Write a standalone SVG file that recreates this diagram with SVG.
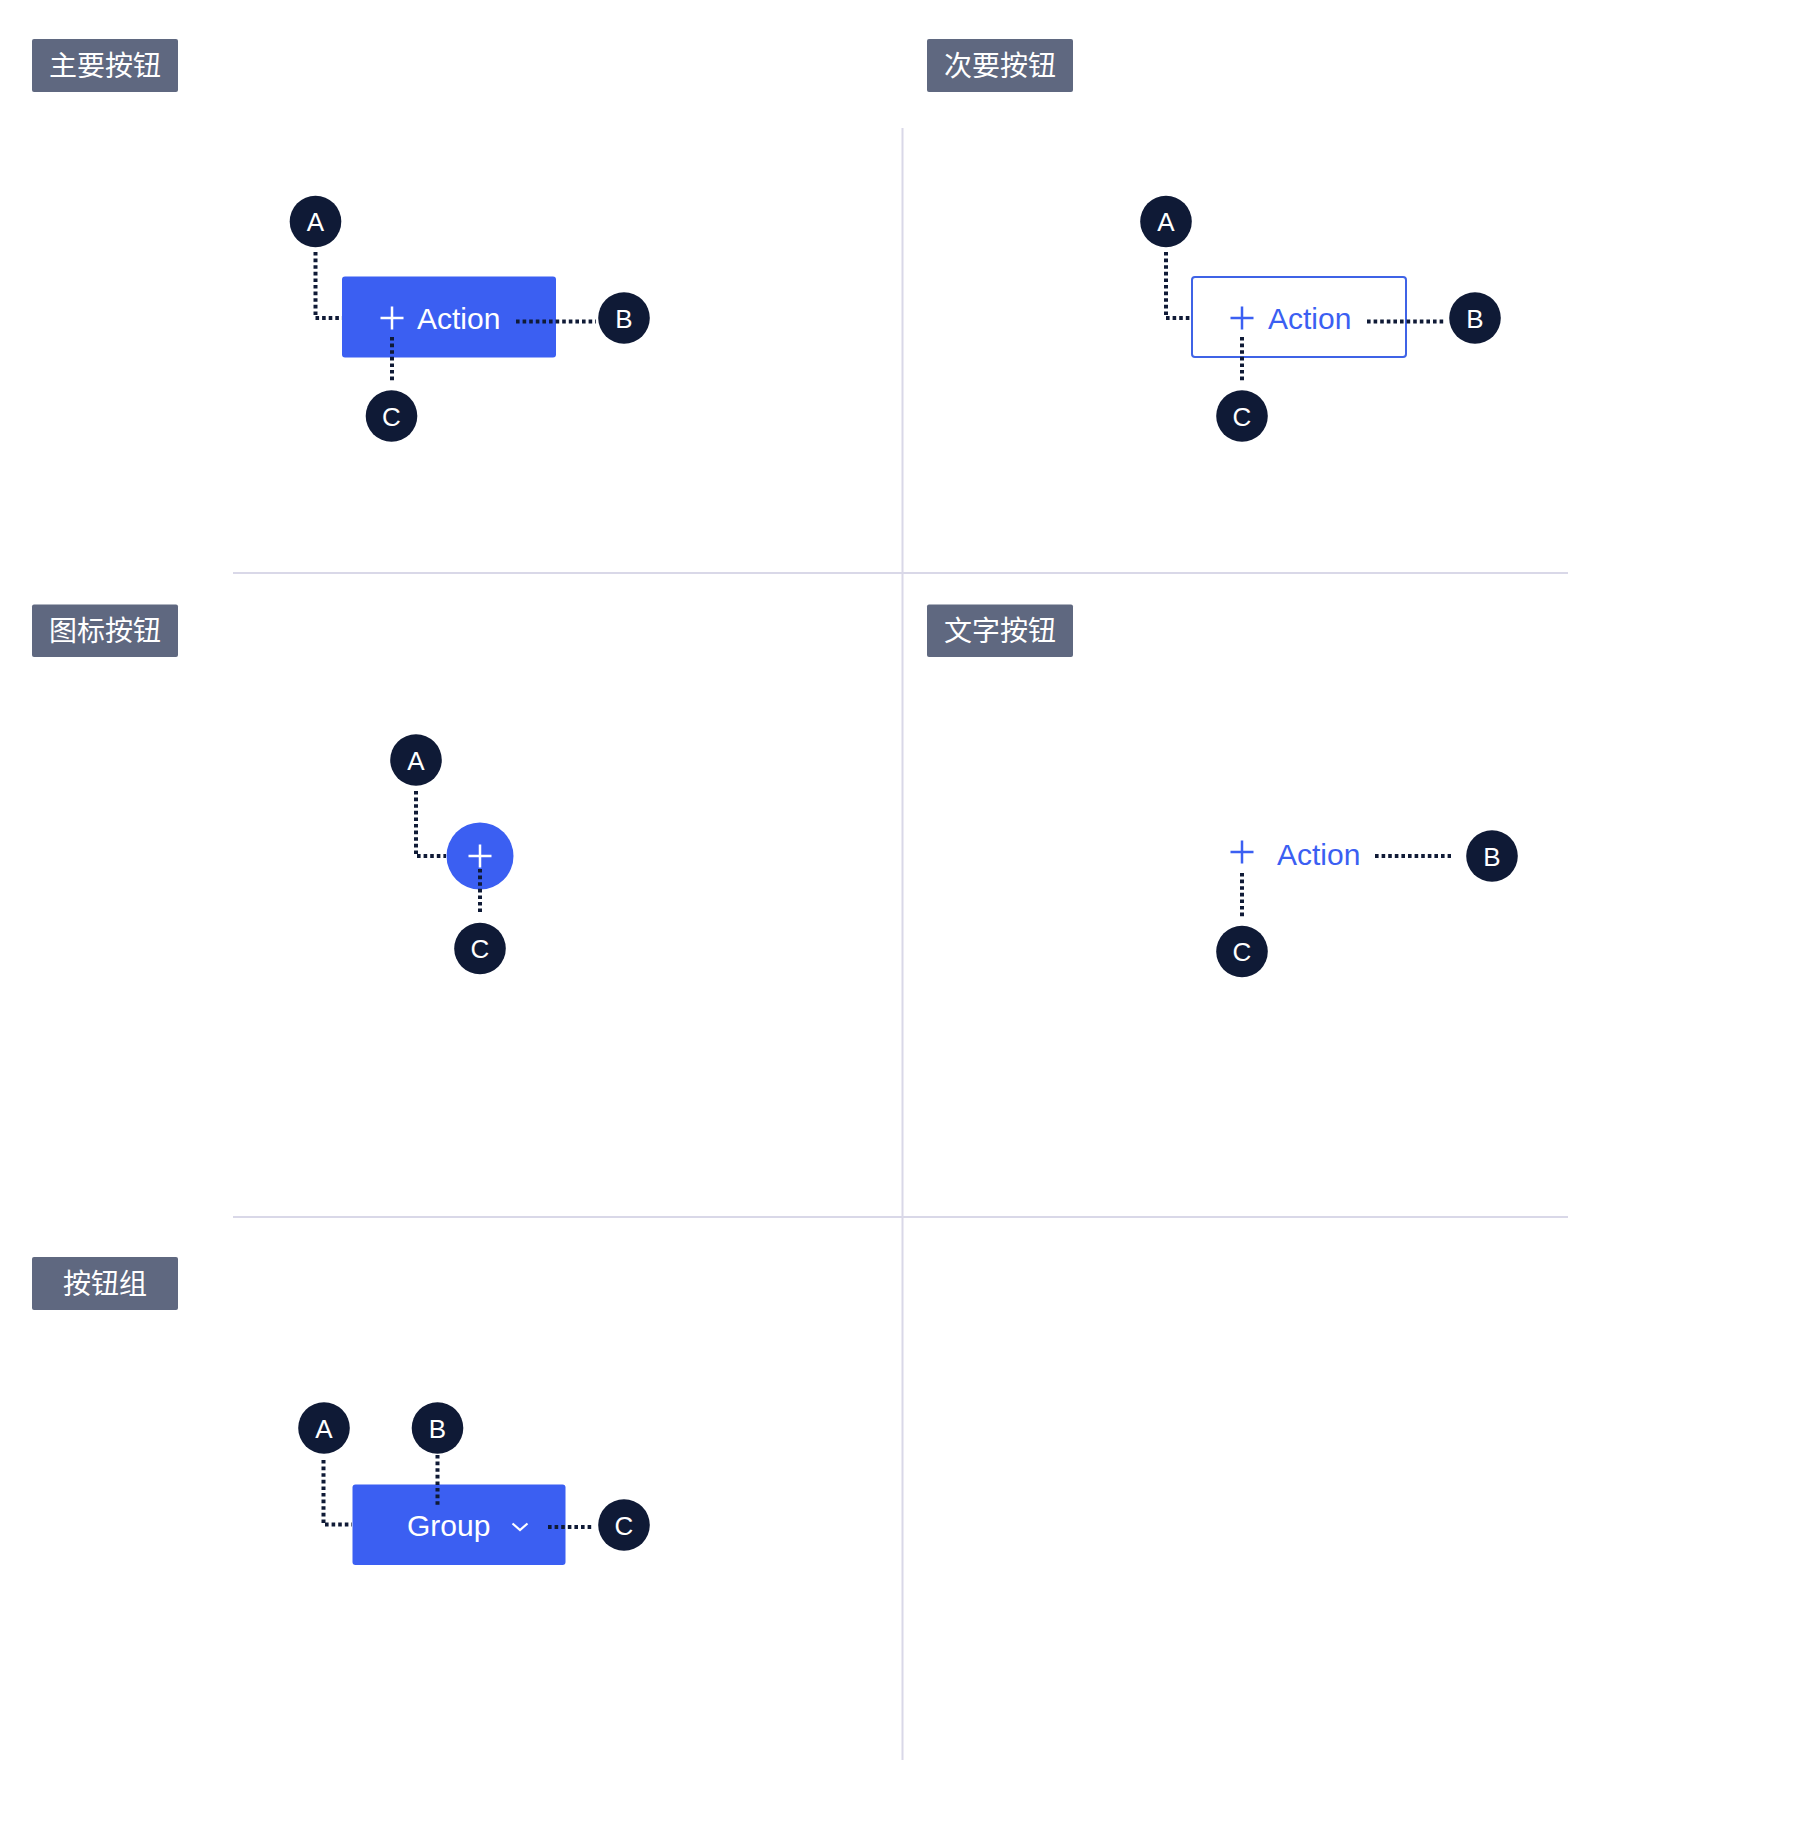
<svg xmlns="http://www.w3.org/2000/svg" width="1800" height="1836" viewBox="0 0 1800 1836">
<style>
.lbl rect{fill:#5f6880}
.lbl text{fill:#ffffff;font-family:"Noto Sans CJK SC","Noto Sans",sans-serif;font-size:28px;text-anchor:middle}
.div{stroke:#d9d8e8;stroke-width:2;fill:none}
.mark circle{fill:#0f1a36}
.mark text{fill:#ffffff;font-family:"Liberation Sans",Arial,sans-serif;font-size:26px;text-anchor:middle}
.conn{stroke:#0f1a36;stroke-width:4;fill:none;stroke-dasharray:3.6 3}
.btxt{font-family:"Liberation Sans",Arial,sans-serif;font-size:30px}
.plusw{stroke:#ffffff;stroke-width:2.5;fill:none}
.plusb{stroke:#3b5ff2;stroke-width:2.5;fill:none}
</style>
<rect width="1800" height="1836" fill="#ffffff"/>
<g id="dividers">
<line class="div" x1="902.5" y1="128" x2="902.5" y2="1760"/>
<line class="div" x1="233" y1="573" x2="1568" y2="573"/>
<line class="div" x1="233" y1="1217" x2="1568" y2="1217"/>
</g>
<g id="label-primary" class="lbl"><rect x="32" y="39" width="146" height="53" rx="2"/><text x="105" y="75.5">主要按钮</text></g>
<g id="label-secondary" class="lbl"><rect x="927" y="39" width="146" height="53" rx="2"/><text x="1000" y="75.5">次要按钮</text></g>
<g id="label-icon" class="lbl"><rect x="32" y="604.5" width="146" height="52.5" rx="2"/><text x="105" y="640.5">图标按钮</text></g>
<g id="label-text" class="lbl"><rect x="927" y="604.5" width="146" height="52.5" rx="2"/><text x="1000" y="640.5">文字按钮</text></g>
<g id="label-group" class="lbl"><rect x="32" y="1257" width="146" height="53" rx="2"/><text x="105" y="1293.5">按钮组</text></g>

<g id="btn-primary">
<rect x="342" y="276.5" width="214" height="81" rx="3" fill="#3b5ff2"/>
<path class="plusw" d="M380.5 318H403.5M392 306.5V329.5"/>
<text class="btxt" x="417" y="329" fill="#ffffff">Action</text>
</g>
<g id="btn-secondary">
<rect x="1192" y="277" width="214" height="80" rx="3" fill="#ffffff" stroke="#3f63e6" stroke-width="2"/>
<path class="plusb" d="M1230.5 318H1253.5M1242 306.5V329.5"/>
<text class="btxt" x="1268" y="329" fill="#3b5ff2">Action</text>
</g>
<g id="btn-icon">
<circle cx="480" cy="856" r="33.5" fill="#3b5ff2"/>
<path class="plusw" d="M468.5 856H491.5M480 844.5V867.5"/>
</g>
<g id="btn-text">
<path class="plusb" d="M1230.5 852H1253.5M1242 840.5V863.5"/>
<text class="btxt" x="1277" y="864.5" fill="#3b5ff2">Action</text>
</g>
<g id="btn-group">
<rect x="352.5" y="1484.5" width="213" height="80.5" rx="3" fill="#3b5ff2"/>
<text class="btxt" x="407" y="1536" fill="#ffffff">Group</text>
<path d="M512.5 1523.5L520 1530L527.5 1523.5" stroke="#ffffff" stroke-width="2.2" fill="none"/>
</g>

<g id="connectors">
<path class="conn" d="M315.5 252V318H342"/>
<path class="conn" d="M516 321.5H596"/>
<path class="conn" d="M392 337V381"/>
<path class="conn" d="M1166 252V318H1192"/>
<path class="conn" d="M1367 321.5H1446"/>
<path class="conn" d="M1242 337V381"/>
<path class="conn" d="M416 791V856H446"/>
<path class="conn" d="M480 869V912"/>
<path class="conn" d="M1375 856H1451"/>
<path class="conn" d="M1242 873V917"/>
<path class="conn" d="M323.5 1460V1524.5H352"/>
<path class="conn" d="M437.5 1455V1507"/>
<path class="conn" d="M548 1527H593"/>
</g>

<g id="q1-A" class="mark"><circle cx="315.5" cy="221.5" r="25.8"/><text x="315.5" y="231">A</text></g>
<g id="q1-B" class="mark"><circle cx="624" cy="318" r="25.8"/><text x="624" y="327.5">B</text></g>
<g id="q1-C" class="mark"><circle cx="391.5" cy="416" r="25.8"/><text x="391.5" y="425.5">C</text></g>
<g id="q2-A" class="mark"><circle cx="1166" cy="221.5" r="25.8"/><text x="1166" y="231">A</text></g>
<g id="q2-B" class="mark"><circle cx="1475" cy="318" r="25.8"/><text x="1475" y="327.5">B</text></g>
<g id="q2-C" class="mark"><circle cx="1242" cy="416" r="25.8"/><text x="1242" y="425.5">C</text></g>
<g id="q3-A" class="mark"><circle cx="416" cy="760" r="25.8"/><text x="416" y="769.5">A</text></g>
<g id="q3-C" class="mark"><circle cx="480" cy="948.5" r="25.8"/><text x="480" y="958">C</text></g>
<g id="q4-B" class="mark"><circle cx="1492" cy="856" r="25.8"/><text x="1492" y="865.5">B</text></g>
<g id="q4-C" class="mark"><circle cx="1242" cy="951.5" r="25.8"/><text x="1242" y="961">C</text></g>
<g id="q5-A" class="mark"><circle cx="324" cy="1428" r="25.8"/><text x="324" y="1437.5">A</text></g>
<g id="q5-B" class="mark"><circle cx="437.5" cy="1428" r="25.8"/><text x="437.5" y="1437.5">B</text></g>
<g id="q5-C" class="mark"><circle cx="624" cy="1525" r="25.8"/><text x="624" y="1534.5">C</text></g>
</svg>
